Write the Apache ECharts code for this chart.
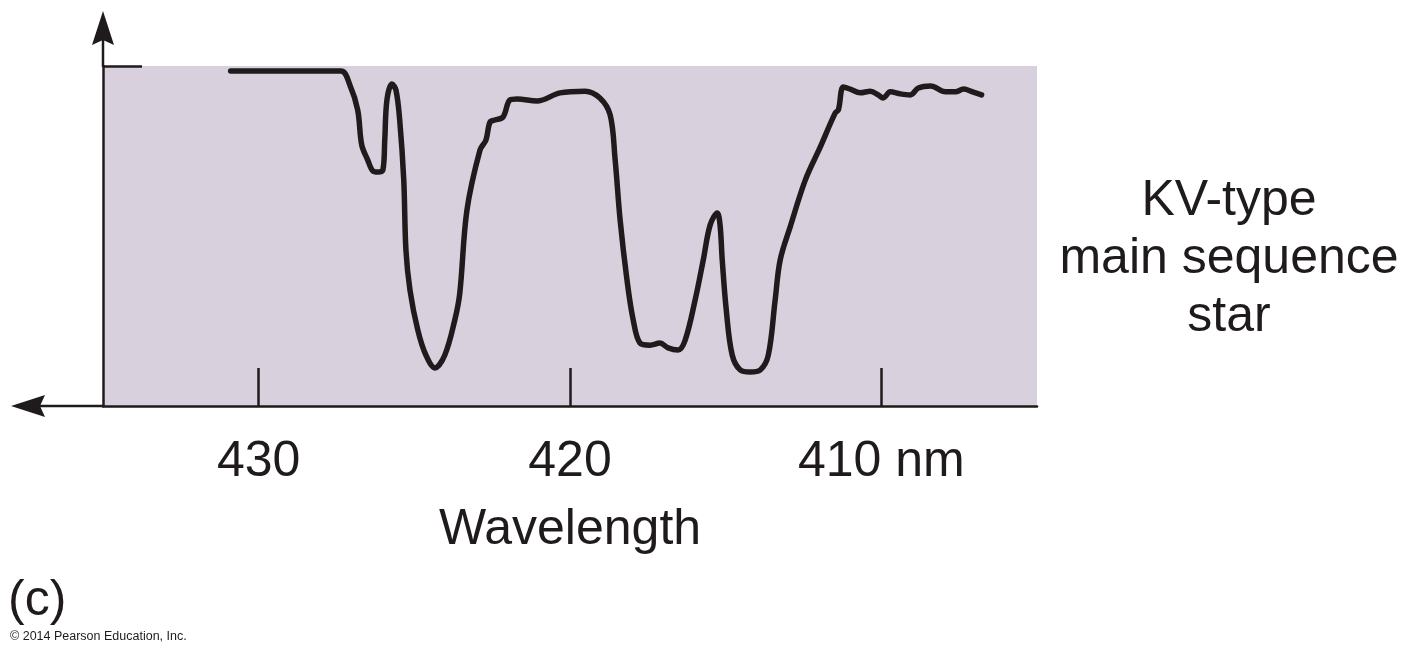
<!DOCTYPE html>
<html>
<head>
<meta charset="utf-8">
<script src="https://cdn.jsdelivr.net/npm/echarts@6/dist/echarts.min.js"></script>
<style>
html,body{margin:0;padding:0;background:#fff;}
#chart{width:1411px;height:658px;}
</style>
</head>
<body>
<div id="chart"></div>
<script>
// Wavelength (nm) of each traced point of the spectrum
const wavelengths = [430.90, 427.36, 427.07, 426.82, 426.69, 426.50, 426.33, 426.17, 426.01, 425.95,
  425.88, 425.72, 425.59, 425.47, 425.34, 425.27, 425.14, 424.89, 424.63, 424.34,
  424.02, 423.70, 423.54, 423.31, 422.89, 422.70, 422.57, 422.41, 422.15, 421.93,
  421.70, 421.06, 420.32, 419.52, 419.04, 418.71, 418.55, 418.39, 418.17, 417.97,
  417.75, 417.43, 417.11, 416.85, 416.53, 416.30, 415.98, 415.72, 415.50, 415.27,
  415.18, 415.11, 414.98, 414.79, 414.53, 414.21, 413.89, 413.63, 413.41, 413.25,
  412.93, 412.44, 411.96, 411.48, 411.38, 411.22, 411.00, 410.68, 410.35, 410.10,
  409.94, 409.71, 409.39, 409.07, 408.81, 408.42, 407.94, 407.62, 407.36, 407.07, 406.78];
// Relative intensity (% of continuum)
const intensity = [98.5, 98.5, 94.4, 87.1, 76.8, 72.4, 69.1, 68.8, 69.4, 78.2,
  90.0, 94.7, 92.9, 84.1, 66.5, 45.9, 34.1, 22.4, 15.0, 11.2,
  15.0, 25.3, 33.2, 57.6, 75.3, 78.2, 83.5, 84.1, 85.0, 90.0,
  90.3, 89.7, 92.1, 92.6, 90.6, 85.6, 72.4, 54.7, 37.1, 25.3,
  18.5, 17.9, 18.5, 17.1, 16.5, 19.4, 31.2, 42.9, 53.2, 56.8,
  53.2, 42.9, 28.2, 15.0, 10.6, 10.0, 10.6, 15.0, 31.2, 42.9,
  52.6, 66.5, 76.2, 86.2, 87.1, 93.8, 93.2, 92.1, 92.6, 91.5,
  90.6, 92.4, 91.8, 91.5, 93.5, 94.1, 92.4, 92.4, 93.2, 92.4, 91.5];
// Axis tick values and labels
const xTickValues = [430, 420, 410];
const xTickLabels = {430: '430', 420: '420', 410: '410 nm'};
const yTickValues = [100];
const xRange = [405, 435];
const yRange = [0, 100];
const xAxisTitle = 'Wavelength';
const sideLabel = 'KV-type\nmain sequence\nstar';
const panelLabel = '(c)';
const credit = '\u00A9 2014 Pearson Education, Inc.';

const ink = '#1f1b1c';
const font = '"Liberation Sans", Arial, Helvetica, sans-serif';

const chart = echarts.init(document.getElementById('chart'), null, {renderer: 'canvas'});
const data = wavelengths.map((w, i) => [w, intensity[i]]);

chart.setOption({
  animation: false,
  backgroundColor: '#ffffff',
  grid: {
    left: 103, right: 374, top: 66, bottom: 252,
    show: true, backgroundColor: '#d9d0de', borderWidth: 0
  },
  xAxis: {
    type: 'value', inverse: true, min: xRange[0], max: xRange[1],
    axisLine: {show: true, onZero: false, lineStyle: {color: ink, width: 2.5}},
    axisTick: {show: true, inside: true, length: 38, customValues: xTickValues,
      lineStyle: {color: ink, width: 2.5}},
    axisLabel: {show: true, customValues: xTickValues, margin: 31,
      formatter: v => xTickLabels[v] || '',
      fontFamily: font, fontSize: 50, color: ink},
    splitLine: {show: false},
    name: xAxisTitle, nameLocation: 'middle', nameGap: 99,
    nameTextStyle: {fontFamily: font, fontSize: 50, color: ink}
  },
  yAxis: {
    type: 'value', min: yRange[0], max: yRange[1],
    axisLine: {show: true, lineStyle: {color: ink, width: 2.5}},
    axisTick: {show: true, inside: true, length: 39, customValues: yTickValues,
      lineStyle: {color: ink, width: 2.5}},
    axisLabel: {show: false},
    splitLine: {show: false}
  },
  series: [{
    type: 'line', data: data, smooth: 0.35, symbol: 'none',
    lineStyle: {color: ink, width: 5.5, cap: 'round', join: 'round'}
  }],
  graphic: [
    // axis extensions and arrowheads
    {type: 'line', shape: {x1: 103, y1: 67, x2: 103, y2: 30}, style: {stroke: ink, lineWidth: 2.5}, z: 10},
    {type: 'polygon', shape: {points: [[103, 11], [114, 45], [103, 40], [92, 45]]}, style: {fill: ink}, z: 10},
    {type: 'line', shape: {x1: 104, y1: 406, x2: 30, y2: 406}, style: {stroke: ink, lineWidth: 2.5}, z: 10},
    {type: 'polygon', shape: {points: [[11, 406], [45, 395], [40, 406], [45, 417]]}, style: {fill: ink}, z: 10},
    {type: 'text', x: 1229, y: 259, style: {text: sideLabel, fontFamily: font, fontSize: 50,
      lineHeight: 58, fill: ink, align: 'center', verticalAlign: 'middle'}},
    {type: 'text', x: 8, y: 601, style: {text: panelLabel, fontFamily: font, fontSize: 50,
      fill: ink, align: 'left', verticalAlign: 'middle'}},
    {type: 'text', x: 10, y: 637, style: {text: credit, fontFamily: font, fontSize: 12.5,
      fill: ink, align: 'left', verticalAlign: 'middle'}}
  ]
});
</script>
</body>
</html>
